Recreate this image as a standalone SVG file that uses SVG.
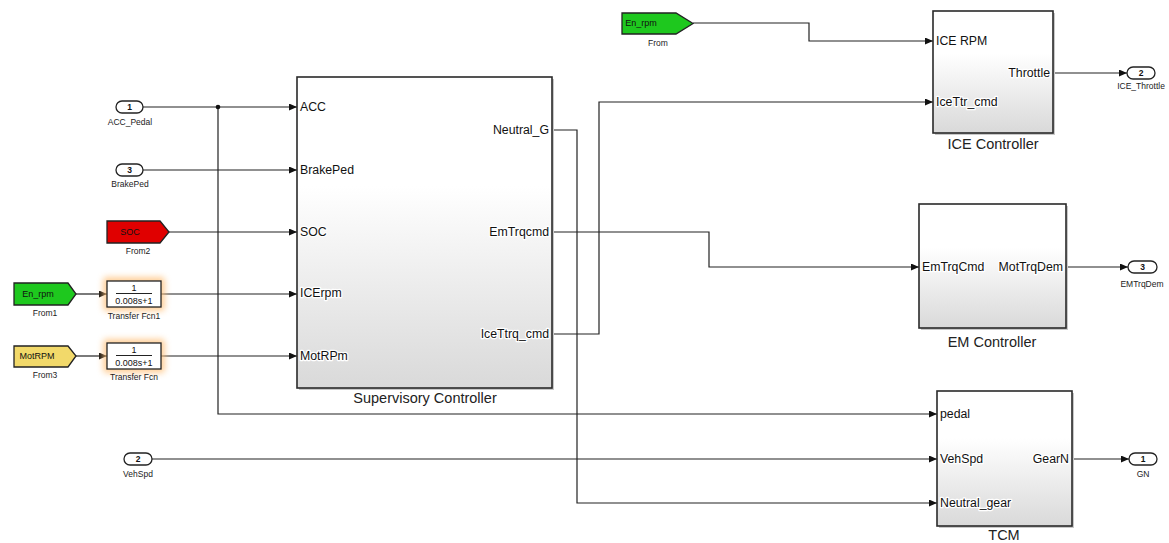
<svg xmlns="http://www.w3.org/2000/svg" width="1169" height="543" viewBox="0 0 1169 543">
<defs>
<linearGradient id="sub" x1="0" y1="0" x2="0" y2="1">
<stop offset="0" stop-color="#ffffff"/>
<stop offset="0.35" stop-color="#ffffff"/>
<stop offset="1" stop-color="#d9d9d9"/>
</linearGradient>
<filter id="glow" x="-30%" y="-50%" width="160%" height="200%">
<feGaussianBlur stdDeviation="3"/>
</filter>
<marker id="arr" markerWidth="8" markerHeight="7" refX="8" refY="3.5" orient="auto" markerUnits="userSpaceOnUse">
<path d="M0,0 L8,3.5 L0,7 z" fill="#111"/>
</marker>
<style>
.sub{fill:url(#sub);stroke:#2a2a2a;stroke-width:1.6}
.shadow{fill:#c8c8c8;stroke:none}
.port{font-family:"Liberation Sans",Arial,sans-serif;font-size:12.3px;fill:#111;stroke:#fff;stroke-width:2.5px;paint-order:stroke;stroke-linejoin:round}
.title{font-family:"Liberation Sans",Arial,sans-serif;font-size:14.5px;fill:#222;text-anchor:middle}
.small{font-family:"Liberation Sans",Arial,sans-serif;font-size:8.5px;fill:#222;text-anchor:middle}
.io{fill:#fff;stroke:#222;stroke-width:1.3}
.ionum{font-family:"Liberation Sans",Arial,sans-serif;font-size:8.5px;font-weight:bold;fill:#111;text-anchor:middle}
.from{stroke:#222;stroke-width:1.3}
.ftxt{font-family:"Liberation Sans",Arial,sans-serif;font-size:9px;fill:#111;text-anchor:middle}
.tf{fill:#fff;stroke:#222;stroke-width:1.3}
.tfglow{fill:#ffc078;opacity:0.75}
.tftxt{font-family:"Liberation Sans",Arial,sans-serif;font-size:9px;fill:#111;text-anchor:middle}
.wire{fill:none;stroke:#222;stroke-width:1.2}
.a{marker-end:url(#arr)}
</style>
</defs>
<rect width="1169" height="543" fill="#fff"/>

<g id="connectors">
<path class="wire a" d="M143,107 H297"/>
<path class="wire a" d="M218,107 V414 H937"/>
<circle cx="218" cy="107" r="2.3" fill="#111"/>
<path class="wire a" d="M143,170 H297"/>
<path class="wire a" d="M169,232 H297"/>
<path class="wire a" d="M76,294 H107"/>
<path class="wire a" d="M161,294 H297"/>
<path class="wire a" d="M76,356 H107"/>
<path class="wire a" d="M161,356 H297"/>
<path class="wire a" d="M552,130 H577 V503 H937"/>
<path class="wire a" d="M552,232 H709 V267 H919"/>
<path class="wire a" d="M552,334 H599 V102 H933"/>
<path class="wire a" d="M693,23 H809 V41 H933"/>
<path class="wire a" d="M1053,73 H1127"/>
<path class="wire a" d="M1066,267 H1128"/>
<path class="wire a" d="M1072,459 H1129"/>
<path class="wire a" d="M152,459 H937"/>
</g>

<g id="in_acc">
<rect class="io" x="116" y="101" width="27" height="12" rx="6"/>
<text class="ionum" x="129.5" y="110">1</text>
<text class="small" x="130" y="125">ACC_Pedal</text>
</g>
<g id="in_brake">
<rect class="io" x="116" y="164" width="27" height="12" rx="6"/>
<text class="ionum" x="129.5" y="173">3</text>
<text class="small" x="130" y="187">BrakePed</text>
</g>
<g id="in_vehspd">
<rect class="io" x="124" y="453" width="28" height="12" rx="6"/>
<text class="ionum" x="138" y="462">2</text>
<text class="small" x="138" y="477">VehSpd</text>
</g>

<g id="from2">
<polygon class="from" points="107,221 160,221 169,232 160,243 107,243" fill="#e00000"/>
<text class="ftxt" x="130" y="235" fill="#400">SOC</text>
<text class="small" x="138" y="254">From2</text>
</g>
<g id="from1">
<polygon class="from" points="14,283 68,283 76,294 68,305 14,305" fill="#1ec81e"/>
<text class="ftxt" x="38" y="297">En_rpm</text>
<text class="small" x="45" y="316">From1</text>
</g>
<g id="from3">
<polygon class="from" points="14,346 68,346 76,356 68,367 14,367" fill="#f2d96a"/>
<text class="ftxt" x="37" y="359">MotRPM</text>
<text class="small" x="45" y="378">From3</text>
</g>
<g id="from_top">
<polygon class="from" points="622,13 676,13 693,23.5 676,34 622,34" fill="#1ec81e"/>
<text class="ftxt" x="641" y="26">En_rpm</text>
<text class="small" x="658" y="46">From</text>
</g>

<g id="tf1">
<rect class="tfglow" x="103" y="277" width="62" height="34" rx="4" filter="url(#glow)"/>
<rect class="tf" x="107" y="281" width="54" height="26"/>
<text class="tftxt" x="134" y="291">1</text>
<line x1="116" y1="293.5" x2="152" y2="293.5" stroke="#222" stroke-width="1"/>
<text class="tftxt" x="134" y="304">0.008s+1</text>
<text class="small" x="134" y="319">Transfer Fcn1</text>
</g>
<g id="tf">
<rect class="tfglow" x="103" y="339" width="62" height="34" rx="4" filter="url(#glow)"/>
<rect class="tf" x="107" y="343" width="54" height="26"/>
<text class="tftxt" x="134" y="353">1</text>
<line x1="116" y1="355.5" x2="152" y2="355.5" stroke="#222" stroke-width="1"/>
<text class="tftxt" x="134" y="366">0.008s+1</text>
<text class="small" x="134" y="380">Transfer Fcn</text>
</g>

<g id="supervisory">
<rect class="shadow" x="299" y="79" width="255" height="311"/>
<rect class="sub" x="297" y="77" width="255" height="311"/>
<text class="port" x="300" y="111">ACC</text>
<text class="port" x="300" y="174">BrakePed</text>
<text class="port" x="300" y="236">SOC</text>
<text class="port" x="300" y="297">ICErpm</text>
<text class="port" x="300" y="360">MotRPm</text>
<text class="port" x="549" y="134" text-anchor="end">Neutral_G</text>
<text class="port" x="549" y="236" text-anchor="end">EmTrqcmd</text>
<text class="port" x="549" y="338" text-anchor="end">IceTtrq_cmd</text>
<text class="title" x="425" y="403">Supervisory Controller</text>
</g>

<g id="ice">
<rect class="shadow" x="935" y="13" width="120" height="122"/>
<rect class="sub" x="933" y="11" width="120" height="122"/>
<text class="port" x="936" y="45">ICE RPM</text>
<text class="port" x="936" y="106">IceTtr_cmd</text>
<text class="port" x="1050" y="77" text-anchor="end">Throttle</text>
<text class="title" x="993" y="149">ICE Controller</text>
</g>
<g id="out_throttle">
<rect class="io" x="1127" y="67" width="28" height="12" rx="6"/>
<text class="ionum" x="1141" y="76">2</text>
<text class="small" x="1141" y="89">ICE_Throttle</text>
</g>

<g id="em">
<rect class="shadow" x="921" y="206" width="147" height="124"/>
<rect class="sub" x="919" y="204" width="147" height="124"/>
<text class="port" x="922" y="271">EmTrqCmd</text>
<text class="port" x="1063" y="271" text-anchor="end">MotTrqDem</text>
<text class="title" x="992" y="347">EM Controller</text>
</g>
<g id="out_em">
<rect class="io" x="1128" y="261" width="29" height="12" rx="6"/>
<text class="ionum" x="1142.5" y="270">3</text>
<text class="small" x="1142" y="287">EMTrqDem</text>
</g>

<g id="tcm">
<rect class="shadow" x="939" y="393" width="135" height="135"/>
<rect class="sub" x="937" y="391" width="135" height="135"/>
<text class="port" x="940" y="418">pedal</text>
<text class="port" x="940" y="463">VehSpd</text>
<text class="port" x="940" y="507">Neutral_gear</text>
<text class="port" x="1069" y="463" text-anchor="end">GearN</text>
<text class="title" x="1004" y="540">TCM</text>
</g>
<g id="out_gn">
<rect class="io" x="1129" y="453" width="28" height="12" rx="6"/>
<text class="ionum" x="1143" y="462">1</text>
<text class="small" x="1143" y="477">GN</text>
</g>
</svg>
